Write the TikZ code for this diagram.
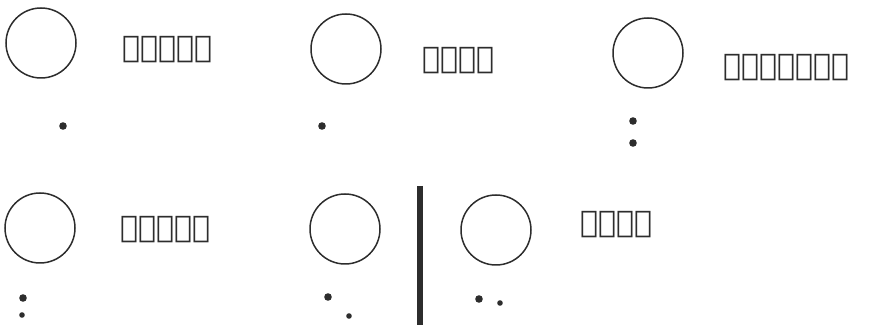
\documentclass[tikz,border=0pt]{standalone}
\usepackage{fontspec}
\usetikzlibrary{positioning}
\TeXXeTstate=1
\IfFontExistsTF{NotoSansSyriac-Regular.ttf}
  {\newfontfamily\syrfont[Script=Syriac]{NotoSansSyriac-Regular.ttf}}
  {\newfontfamily\syrfont[Script=Syriac]{DejaVu Sans}}
\definecolor{inkgray}{RGB}{45,45,45}

\begin{document}
\begin{tikzpicture}[x=0.5pt,y=-0.5pt,
pointcircle/.style={draw=inkgray, circle, line width=0.75pt, minimum size=35pt, inner sep=0pt},
accname/.style={font=\syrfont\fontsize{15}{18}\selectfont, inner sep=0pt, anchor=west, text=inkgray},
bigdot/.style={fill=inkgray, circle, inner sep=0pt, minimum size=3.8pt},
smalldot/.style={fill=inkgray, circle, inner sep=0pt, minimum size=2.8pt}
]
\useasboundingbox (0,0) rectangle (869,325);

\node[pointcircle] (c1) at (41,43) {};
\node[pointcircle] (c2) at (346,49) {};
\node[pointcircle] (c3) at (648,53) {};
\node[pointcircle] (c4) at (40,228) {};
\node[pointcircle] (c5) at (345,229) {};
\node[pointcircle] (c6) at (496,230) {};

\node[accname] (n1) at (122,50) {\beginR ܡܢܚܬܐ\endR};
\node[accname] (n2) at (422,61) {\beginR ܣܡܟܐ\endR};
\node[accname] (n3) at (723,68) {\beginR ܡܬܟܫܦܢܐ\endR};
\node[accname] (n4) at (120,230) {\beginR ܠܓܝܓܐ\endR};
\node[accname] (n6) at (580,225) {\beginR ܙܘܓܐ\endR};

\node[bigdot] (d1) at (63,126) {};
\node[bigdot] (d2) at (322,126) {};
\node[bigdot] (d3a) at (633,121) {};
\node[bigdot] (d3b) at (633,143) {};
\node[bigdot] (d4a) at (23,298) {};
\node[smalldot] (d4b) at (22,315) {};
\node[bigdot] (d5a) at (328,297) {};
\node[smalldot] (d5b) at (349,316) {};
\node[bigdot] (d6a) at (479,299) {};
\node[smalldot] (d6b) at (500,303) {};

\coordinate (barTop) at (420,186);
\coordinate (barBot) at (420,325);
\draw[line width=3pt, inkgray] (barTop) -- (barBot);
\end{tikzpicture}
\end{document}
